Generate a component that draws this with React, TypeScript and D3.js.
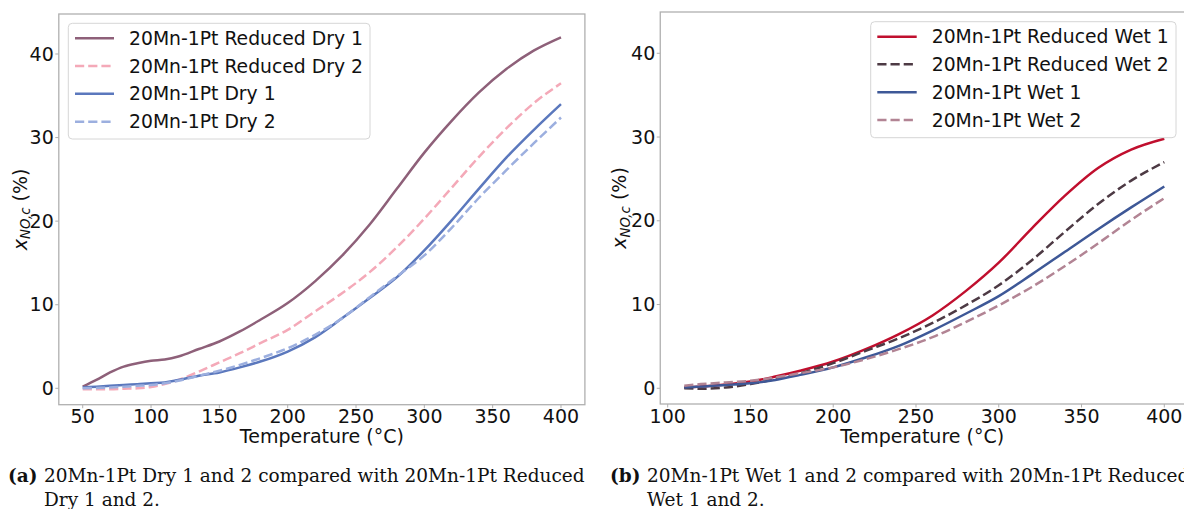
import React from "react";
import * as d3 from "d3";

// Temperature grid (°C) for the dry runs and NO conversion (%) for each curve
const dryTemps = [50, 60, 70, 80, 90, 100, 110, 120, 135, 150, 165, 180, 200, 220, 240, 260, 280, 300, 320, 340, 360, 380, 400];
const reducedDry1 = [0.2, 1.0, 1.9, 2.6, 3.0, 3.3, 3.45, 3.8, 4.7, 5.6, 6.8, 8.2, 10.2, 12.8, 15.9, 19.6, 23.9, 28.2, 32.0, 35.4, 38.2, 40.4, 42.0];
const reducedDry2 = [-0.1, -0.1, -0.1, -0.05, 0.0, 0.15, 0.5, 1.0, 2.0, 3.1, 4.2, 5.4, 7.0, 9.2, 11.4, 13.9, 16.9, 20.3, 24.0, 27.7, 31.1, 34.1, 36.5];
const dry1 = [0.1, 0.2, 0.3, 0.4, 0.5, 0.6, 0.7, 1.0, 1.5, 1.9, 2.5, 3.2, 4.4, 6.1, 8.4, 10.8, 13.3, 16.5, 20.1, 23.9, 27.6, 30.9, 34.0];
const dry2 = [0.0, 0.05, 0.1, 0.2, 0.3, 0.4, 0.6, 0.9, 1.5, 2.1, 2.8, 3.6, 4.8, 6.4, 8.4, 10.9, 13.4, 15.9, 19.2, 22.8, 26.1, 29.3, 32.4];

// Temperature grid (°C) for the wet runs
const wetTemps = [110, 120, 135, 150, 165, 180, 200, 220, 240, 260, 280, 300, 320, 340, 360, 380, 400];
const reducedWet1 = [0.1, 0.2, 0.45, 0.8, 1.4, 2.1, 3.2, 4.7, 6.5, 8.7, 11.6, 15.0, 19.1, 23.0, 26.3, 28.5, 29.8];
const reducedWet2 = [0.0, -0.05, 0.1, 0.5, 1.1, 1.8, 3.0, 4.5, 6.0, 7.8, 9.9, 12.3, 15.3, 18.7, 22.0, 24.8, 27.0];
const wet1 = [0.1, 0.2, 0.4, 0.6, 1.0, 1.6, 2.5, 3.7, 5.1, 6.9, 8.9, 11.0, 13.6, 16.3, 19.0, 21.6, 24.1];
const wet2 = [0.3, 0.5, 0.7, 0.9, 1.3, 1.8, 2.5, 3.5, 4.7, 6.1, 7.9, 9.9, 12.1, 14.6, 17.3, 20.1, 22.7];

const dryLabels = ["20Mn-1Pt Reduced Dry 1", "20Mn-1Pt Reduced Dry 2", "20Mn-1Pt Dry 1", "20Mn-1Pt Dry 2"];
const wetLabels = ["20Mn-1Pt Reduced Wet 1", "20Mn-1Pt Reduced Wet 2", "20Mn-1Pt Wet 1", "20Mn-1Pt Wet 2"];

const dryXTicks = [50, 100, 150, 200, 250, 300, 350, 400];
const wetXTicks = [100, 150, 200, 250, 300, 350, 400];
const yTicks = [0, 10, 20, 30, 40];

const captionA = ["20Mn-1Pt Dry 1 and 2 compared with 20Mn-1Pt Reduced", "Dry 1 and 2."];
const captionB = ["20Mn-1Pt Wet 1 and 2 compared with 20Mn-1Pt Reduced", "Wet 1 and 2."];

type Series = { label: string; temps: number[]; values: number[]; color: string; dashed: boolean };

const drySeries: Series[] = [
  { label: dryLabels[0], temps: dryTemps, values: reducedDry1, color: "#8e6079", dashed: false },
  { label: dryLabels[1], temps: dryTemps, values: reducedDry2, color: "#f4a9b8", dashed: true },
  { label: dryLabels[2], temps: dryTemps, values: dry1, color: "#5b78bd", dashed: false },
  { label: dryLabels[3], temps: dryTemps, values: dry2, color: "#9cafdf", dashed: true },
];

const wetSeries: Series[] = [
  { label: wetLabels[0], temps: wetTemps, values: reducedWet1, color: "#c00f2e", dashed: false },
  { label: wetLabels[1], temps: wetTemps, values: reducedWet2, color: "#4d3a44", dashed: true },
  { label: wetLabels[2], temps: wetTemps, values: wet1, color: "#3e5897", dashed: false },
  { label: wetLabels[3], temps: wetTemps, values: wet2, color: "#b28494", dashed: true },
];

const SANS = "'DejaVu Sans', sans-serif";
const SERIF = "'DejaVu Serif', serif";
const FS = 19;
const LEGEND_FS = 18.8;
const SPINE = "#b0b0b0";
const DASH = "9.2 4";

type PanelProps = {
  series: Series[];
  xDomain: [number, number];
  xRange: [number, number];
  yDomain: [number, number];
  yRange: [number, number];
  xTicks: number[];
  legend: { x0: number; y0: number; x1: number; y1: number; rows: number[]; hx0: number; hx1: number; tx: number };
  yLabelX: number;
  clipId: string;
};

function Panel({ series, xDomain, xRange, yDomain, yRange, xTicks, legend, yLabelX, clipId }: PanelProps) {
  const x = d3.scaleLinear().domain(xDomain).range(xRange);
  const y = d3.scaleLinear().domain(yDomain).range(yRange);
  const [left, right] = xRange;
  const [bottom, top] = yRange;
  const midX = (left + Math.min(right, 1184)) / 2;
  const midY = (top + bottom) / 2;

  const line = d3
    .line<[number, number]>()
    .x((d) => x(d[0]))
    .y((d) => y(d[1]))
    .curve(d3.curveMonotoneX);

  return (
    <g>
      <defs>
        <clipPath id={clipId}>
          <rect x={left} y={top} width={right - left} height={bottom - top} />
        </clipPath>
      </defs>
      <rect x={left} y={top} width={right - left} height={bottom - top} fill="#fff" stroke={SPINE} strokeWidth={1.3} />

      <g clipPath={`url(#${clipId})`}>
        {series.map((s) => (
          <path
            key={s.label}
            d={line(s.temps.map((t, i) => [t, s.values[i]] as [number, number])) || ""}
            fill="none"
            stroke={s.color}
            strokeWidth={2.5}
            strokeDasharray={s.dashed ? DASH : undefined}
            strokeLinejoin="round"
          />
        ))}
      </g>

      {/* x axis */}
      {xTicks.map((t) => (
        <g key={`x${t}`}>
          <line x1={x(t)} x2={x(t)} y1={bottom} y2={bottom + 3.5} stroke={SPINE} strokeWidth={1} />
          <text x={x(t)} y={bottom + 18.5} textAnchor="middle" fontFamily={SANS} fontSize={FS} fill="#111">
            {t}
          </text>
        </g>
      ))}
      <text x={midX} y={bottom + 38.5} textAnchor="middle" fontFamily={SANS} fontSize={FS} fill="#111">
        Temperature (°C)
      </text>

      {/* y axis */}
      {yTicks.map((t) => (
        <g key={`y${t}`}>
          <line x1={left - 3.5} x2={left} y1={y(t)} y2={y(t)} stroke={SPINE} strokeWidth={1} />
          <text x={left - 5} y={y(t)} dy="0.35em" textAnchor="end" fontFamily={SANS} fontSize={FS} fill="#111">
            {t}
          </text>
        </g>
      ))}
      <text
        transform={`translate(${yLabelX},${midY}) rotate(-90)`}
        textAnchor="middle"
        fontFamily={SANS}
        fontSize={FS}
        fill="#111"
      >
        <tspan fontStyle="italic">x</tspan>
        <tspan fontStyle="italic" fontSize={13.3} dy={3.5}>
          NO,c
        </tspan>
        <tspan dy={-3.5}> (%)</tspan>
      </text>

      {/* legend */}
      <rect
        x={legend.x0}
        y={legend.y0}
        width={legend.x1 - legend.x0}
        height={legend.y1 - legend.y0}
        rx={4}
        fill="#fff"
        fillOpacity={0.8}
        stroke="#d6d6d6"
        strokeWidth={1}
      />
      {series.map((s, i) => (
        <g key={`lg${s.label}`}>
          <line
            x1={legend.hx0}
            x2={legend.hx1}
            y1={legend.rows[i]}
            y2={legend.rows[i]}
            stroke={s.color}
            strokeWidth={2.5}
            strokeDasharray={s.dashed ? DASH : undefined}
          />
          <text x={legend.tx} y={legend.rows[i]} dy="0.35em" fontFamily={SANS} fontSize={LEGEND_FS} fill="#111">
            {s.label}
          </text>
        </g>
      ))}
    </g>
  );
}

function Caption({ tag, lines, x, tx }: { tag: string; lines: string[]; x: number; tx: number }) {
  return (
    <g fontFamily={SERIF} fontSize={18.5} fill="#111">
      <text x={x} y={481.5} fontWeight="bold">
        {tag}
      </text>
      <text x={tx} y={481.5}>
        {lines[0]}
      </text>
      <text x={tx} y={506}>
        {lines[1]}
      </text>
    </g>
  );
}

export default function App() {
  return (
    <svg
      width={1184}
      height={509}
      viewBox="0 0 1184 509"
      style={{ position: "absolute", left: 0, top: 0, background: "#fff" }}
    >
      <rect x={0} y={0} width={1184} height={509} fill="#fff" />
      <Panel
        series={drySeries}
        xDomain={[32.5, 417.5]}
        xRange={[58.8, 584.9]}
        yDomain={[-1.962, 44.786]}
        yRange={[404.7, 14]}
        xTicks={dryXTicks}
        legend={{ x0: 68.3, y0: 23.3, x1: 370, y1: 139, rows: [38.3, 66, 93.7, 121.7], hx0: 75, hx1: 114, tx: 129 }}
        yLabelX={26.5}
        clipId="clipDry"
      />
      <Panel
        series={wetSeries}
        xDomain={[95.5, 414.5]}
        xRange={[660.25, 1188.3]}
        yDomain={[-1.875, 44.93]}
        yRange={[404, 12]}
        xTicks={wetXTicks}
        legend={{ x0: 870.7, y0: 21.7, x1: 1176, y1: 137.7, rows: [36.7, 64.3, 92.3, 120], hx0: 877.3, hx1: 916.7, tx: 931.7 }}
        yLabelX={626}
        clipId="clipWet"
      />
      <Caption tag="(a)" lines={captionA} x={8} tx={44} />
      <Caption tag="(b)" lines={captionB} x={610} tx={647} />
    </svg>
  );
}
